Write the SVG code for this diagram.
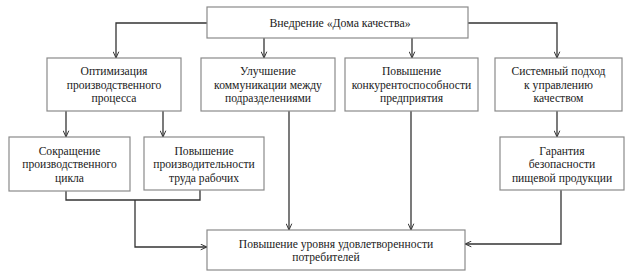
<svg xmlns="http://www.w3.org/2000/svg" width="636" height="278" viewBox="0 0 636 278">
<defs>
<marker id="arr" viewBox="0 0 10 10" refX="10" refY="5" markerWidth="7" markerHeight="7" markerUnits="userSpaceOnUse" orient="auto">
<path d="M1,1 L10,5 L1,9" fill="none" stroke="#333" stroke-width="1.4"/>
</marker>
<style>
.box{fill:#fff;stroke:#8a8a8a;stroke-width:1.2}
.t{fill:#1a1a1a;text-anchor:middle}
.c{fill:none;stroke:#333;stroke-width:1.3}
</style>
</defs>
<rect width="636" height="278" fill="#fff"/>
<g id="connectors">
<polyline class="c" points="207,23 116,23 116,58" marker-end="url(#arr)"/>
<line class="c" x1="264" y1="38" x2="264" y2="58" marker-end="url(#arr)"/>
<line class="c" x1="412" y1="38" x2="412" y2="58" marker-end="url(#arr)"/>
<polyline class="c" points="468,23 557,23 557,58" marker-end="url(#arr)"/>
<line class="c" x1="66" y1="111" x2="66" y2="137" marker-end="url(#arr)"/>
<line class="c" x1="163" y1="111" x2="163" y2="137" marker-end="url(#arr)"/>
<line class="c" x1="557" y1="111" x2="557" y2="137" marker-end="url(#arr)"/>
<polyline class="c" points="66,191 66,200 200,200 200,190"/>
<polyline class="c" points="135,200 135,247 207,247" marker-end="url(#arr)"/>
<line class="c" x1="289" y1="111" x2="289" y2="230" marker-end="url(#arr)"/>
<line class="c" x1="411" y1="111" x2="411" y2="230" marker-end="url(#arr)"/>
<polyline class="c" points="561,190 561,244 465,244" marker-end="url(#arr)"/>
</g>
<g id="n-top">
<rect class="box" x="207" y="7" width="261" height="31"/>
<text class="t" font-family="Liberation Serif" font-size="11.8" x="340" y="27">Внедрение «Дома качества»</text>
</g>
<g id="n-opt">
<rect class="box" x="47" y="58" width="134" height="53"/>
<text class="t" font-family="Liberation Serif" font-size="11.6" x="114" y="75">Оптимизация</text>
<text class="t" font-family="Liberation Serif" font-size="11.6" x="114" y="88.5">производственного</text>
<text class="t" font-family="Liberation Serif" font-size="11.6" x="114" y="102">процесса</text>
</g>
<g id="n-comm">
<rect class="box" x="201" y="58" width="134" height="53"/>
<text class="t" font-family="Liberation Serif" font-size="11.6" x="268" y="75">Улучшение</text>
<text class="t" font-family="Liberation Serif" font-size="11.6" x="268" y="88.5">коммуникации между</text>
<text class="t" font-family="Liberation Serif" font-size="11.6" x="268" y="102">подразделениями</text>
</g>
<g id="n-konk">
<rect class="box" x="345" y="58" width="133" height="53"/>
<text class="t" font-family="Liberation Serif" font-size="11.6" x="411.5" y="75">Повышение</text>
<text class="t" font-family="Liberation Serif" font-size="11.6" x="411.5" y="88.5">конкурентоспособности</text>
<text class="t" font-family="Liberation Serif" font-size="11.6" x="411.5" y="102">предприятия</text>
</g>
<g id="n-sys">
<rect class="box" x="495" y="58" width="127" height="53"/>
<text class="t" font-family="Liberation Serif" font-size="11.6" x="558.5" y="75">Системный подход</text>
<text class="t" font-family="Liberation Serif" font-size="11.6" x="558.5" y="88.5">к управлению</text>
<text class="t" font-family="Liberation Serif" font-size="11.6" x="558.5" y="102">качеством</text>
</g>
<g id="n-sokr">
<rect class="box" x="9" y="137" width="121" height="54"/>
<text class="t" font-family="Liberation Serif" font-size="11.6" x="69.5" y="154.5">Сокращение</text>
<text class="t" font-family="Liberation Serif" font-size="11.6" x="69.5" y="168">производственного</text>
<text class="t" font-family="Liberation Serif" font-size="11.6" x="69.5" y="181.5">цикла</text>
</g>
<g id="n-proizv">
<rect class="box" x="144" y="137" width="120" height="53"/>
<text class="t" font-family="Liberation Serif" font-size="11.6" x="204" y="154.5">Повышение</text>
<text class="t" font-family="Liberation Serif" font-size="11.6" x="204" y="168">производительности</text>
<text class="t" font-family="Liberation Serif" font-size="11.6" x="204" y="181.5">труда рабочих</text>
</g>
<g id="n-gar">
<rect class="box" x="500" y="137" width="124" height="53"/>
<text class="t" font-family="Liberation Serif" font-size="11.6" x="562" y="154.5">Гарантия</text>
<text class="t" font-family="Liberation Serif" font-size="11.6" x="562" y="168">безопасности</text>
<text class="t" font-family="Liberation Serif" font-size="11.6" x="562" y="181.5">пищевой продукции</text>
</g>
<g id="n-bottom">
<rect class="box" x="207" y="230" width="258" height="40"/>
<text class="t" font-family="Liberation Serif" font-size="11.6" x="336" y="247.5">Повышение уровня удовлетворенности</text>
<text class="t" font-family="Liberation Serif" font-size="11.6" x="326" y="261">потребителей</text>
</g>
</svg>
